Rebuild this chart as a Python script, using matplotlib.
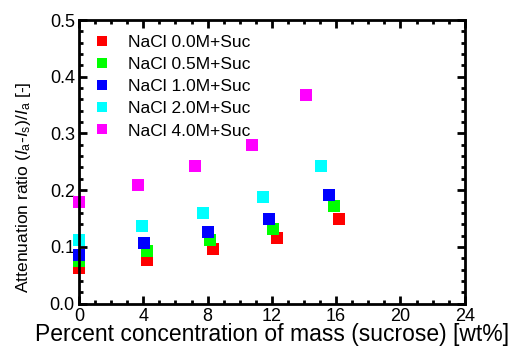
import matplotlib
matplotlib.use("Agg")
import matplotlib.pyplot as plt
from matplotlib.ticker import MultipleLocator, FormatStrFormatter

plt.rcParams['font.family'] = ['Liberation Sans', 'DejaVu Sans']
plt.rcParams['mathtext.fontset'] = 'custom'
plt.rcParams['mathtext.rm'] = 'Liberation Sans'
plt.rcParams['mathtext.it'] = 'Liberation Sans:italic'

labels = ["NaCl 0.0M+Suc", "NaCl 0.5M+Suc", "NaCl 1.0M+Suc", "NaCl 2.0M+Suc", "NaCl 4.0M+Suc"]
colors = ["#ff0000", "#00ff00", "#0000ff", "#00ffff", "#ff00ff"]

x_00 = [0.0, 4.21, 8.31, 12.30, 16.15]
y_00 = [0.062, 0.077, 0.097, 0.115, 0.150]
x_05 = [0.0, 4.21, 8.17, 12.06, 15.84]
y_05 = [0.076, 0.092, 0.112, 0.132, 0.172]
x_10 = [0.0, 4.03, 8.0, 11.83, 15.56]
y_10 = [0.085, 0.106, 0.126, 0.149, 0.192]
x_20 = [0.0, 3.9, 7.70, 11.44, 15.05]
y_20 = [0.112, 0.136, 0.160, 0.188, 0.242]
x_40 = [0.0, 3.66, 7.24, 10.75, 14.15]
y_40 = [0.179, 0.209, 0.242, 0.279, 0.367]

xs = [x_00, x_05, x_10, x_20, x_40]
ys = [y_00, y_05, y_10, y_20, y_40]

fig = plt.figure(figsize=(5.13, 3.51), dpi=100)
ax = fig.add_axes([0.154, 0.135, 0.752, 0.808])

for x, y, c, l in zip(xs, ys, colors, labels):
    ax.plot(x, y, linestyle='none', marker='s', markersize=8.8, color=c,
            markeredgewidth=0, label=l, clip_on=False)

ax.set_xlim(0, 24)
ax.set_ylim(0, 0.5)
ax.xaxis.set_major_locator(MultipleLocator(4))
ax.xaxis.set_minor_locator(MultipleLocator(1))
ax.yaxis.set_major_locator(MultipleLocator(0.1))
ax.yaxis.set_minor_locator(MultipleLocator(0.02))
ax.yaxis.set_major_formatter(FormatStrFormatter('%.1f'))

for s in ax.spines.values():
    s.set_linewidth(2)
ax.tick_params(which='both', direction='in', top=True, right=True, width=2,
               labelsize=13, pad=3)
ax.tick_params(which='major', length=6)
ax.tick_params(which='minor', length=3)

ax.set_xlabel('Percent concentration of mass (sucrose) [wt%]', fontsize=16.5, labelpad=-1)
ax.set_ylabel(r'Attenuation ratio ($I_\mathrm{a}$-$I_\mathrm{s}$)/$I_\mathrm{a}$ [-]', fontsize=12.6)
ax.yaxis.set_label_coords(-0.12, 0.41)

leg = ax.legend(loc='upper left', frameon=False, fontsize=12.5, markerscale=0.8,
                handlelength=1.2, handletextpad=0.9, labelspacing=0.4,
                borderaxespad=0.3, bbox_to_anchor=(0.002, 0.99))

fig.savefig('out.png', dpi=100)
